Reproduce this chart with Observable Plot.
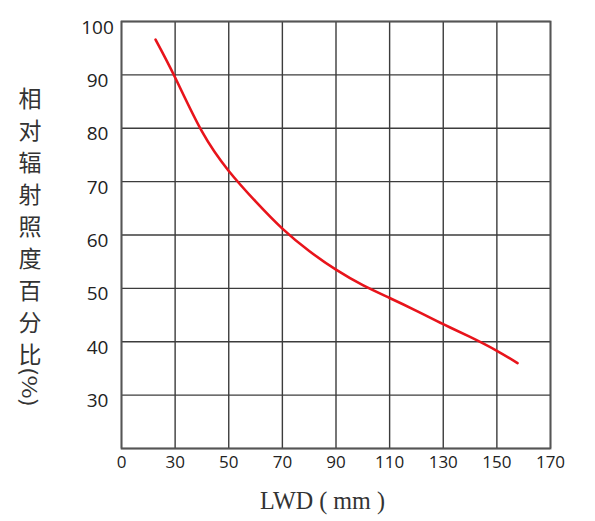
<!DOCTYPE html>
<html>
<head>
<meta charset="utf-8">
<script src="https://cdn.jsdelivr.net/npm/d3@7"></script>
<script src="https://cdn.jsdelivr.net/npm/@observablehq/plot@0.6"></script>
<style>
  html, body { margin: 0; padding: 0; background: #fff; }
  #chart svg { display: block; }
</style>
</head>
<body>
<div id="chart"></div>
<script>
// ---- data ----
const lwd = [22.7, 30, 40, 50, 60, 70, 80, 90, 100, 110, 120, 130, 140, 150, 157.7];
const irradiance = [96.6, 89.5, 79.4, 72.0, 66.3, 61.2, 57.0, 53.5, 50.6, 48.2, 45.8, 43.3, 40.9, 38.3, 36.0];
const xTicks = [10, 30, 50, 70, 90, 110, 130, 150, 170];
const xTickLabels = ["0", "30", "50", "70", "90", "110", "130", "150", "170"];
const yGrid = [20, 30, 40, 50, 60, 70, 80, 90, 100];
const yTicks = [30, 40, 50, 60, 70, 80, 90, 100];
const yTitleChars = ["相", "对", "辐", "射", "照", "度", "百", "分", "比"];
const yTitleUnit = "(%)";
const xTitle = "LWD ( mm )";

const rows = lwd.map((x, i) => ({x, y: irradiance[i]}));
const labelOf = new Map(xTicks.map((t, i) => [t, xTickLabels[i]]));

const gridColor = "#3c3c3c";

const svg = Plot.plot({
  width: 595,
  height: 521,
  marginLeft: 121,
  marginRight: 45,
  marginTop: 21,
  marginBottom: 73,
  style: {background: "#fff", fontFamily: "'Open Sans', sans-serif", overflow: "visible"},
  x: {domain: [10, 170]},
  y: {domain: [20, 100]},
  marks: [
    Plot.gridX(xTicks, {stroke: gridColor, strokeOpacity: 1, strokeWidth: 1.4}),
    Plot.gridY(yGrid, {stroke: gridColor, strokeOpacity: 1, strokeWidth: 1.4}),
    Plot.frame({stroke: "#555", strokeWidth: 1.8}),
    Plot.axisX(xTicks, {
      tickSize: 0, tickPadding: 7, fontSize: 17, fill: "#222",
      tickFormat: d => labelOf.get(d), label: null
    }),
    Plot.axisY(yTicks, {
      tickSize: 0, tickPadding: 24, fontSize: 19, fill: "#222",
      textAnchor: "middle", dy: 6, label: null
    }),
    Plot.line(rows, {x: "x", y: "y", stroke: "#e8141b", strokeWidth: 2.6, curve: "natural"})
  ]
});

const s = d3.select(svg);
// vertical stacked y title
const yt = s.append("g")
  .attr("font-family", "'Noto Sans CJK SC', sans-serif")
  .attr("fill", "#333")
  .attr("text-anchor", "middle");
yTitleChars.forEach((c, i) => {
  yt.append("text")
    .attr("x", 30).attr("y", 97 + 32 * i)
    .attr("dominant-baseline", "central")
    .attr("font-size", 23)
    .text(c);
});
yt.append("text")
  .attr("transform", "translate(30,387) rotate(90)")
  .attr("dominant-baseline", "central")
  .attr("font-size", 20)
  .attr("textLength", 40)
  .attr("lengthAdjust", "spacingAndGlyphs")
  .text(yTitleUnit);

// x title
s.append("text")
  .attr("x", 260).attr("y", 509)
  .attr("text-anchor", "start")
  .attr("font-family", "'Liberation Serif', serif")
  .attr("font-size", 26)
  .attr("fill", "#333")
  .attr("textLength", 125)
  .attr("lengthAdjust", "spacingAndGlyphs")
  .text(xTitle);

document.getElementById("chart").appendChild(svg);
</script>
</body>
</html>
